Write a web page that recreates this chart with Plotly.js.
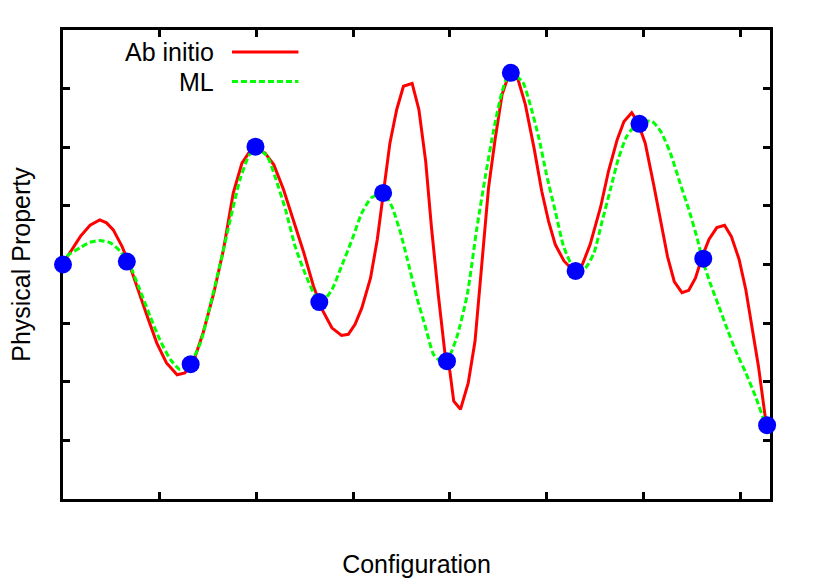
<!DOCTYPE html>
<html>
<head>
<meta charset="utf-8">
<script src="https://cdn.plot.ly/plotly-3.0.1.min.js"></script>
<style>
  html, body { margin: 0; padding: 0; background: #fff; }
  #plot { width: 830px; height: 581px; }
</style>
</head>
<body>
<div id="plot"></div>
<script>
// =========================
// Data
// =========================
const abInitioX = [
  0, 0.04, 0.18, 0.28, 0.38, 0.45, 0.52, 0.61, 0.68, 0.76,
  0.87, 0.97, 1.07, 1.18, 1.26, 1.35, 1.45, 1.56, 1.66, 1.76,
  1.85, 1.92, 1.99, 2.09, 2.18, 2.28, 2.38, 2.49, 2.59, 2.68,
  2.78, 2.88, 2.95, 3.02, 3.09, 3.18, 3.25, 3.31, 3.38, 3.45,
  3.52, 3.61, 3.68, 3.75, 3.81, 3.88, 3.95, 4.00, 4.04, 4.11,
  4.19, 4.26, 4.33, 4.40, 4.47, 4.54, 4.61, 4.69, 4.78, 4.87,
  4.95, 5.02, 5.09, 5.18, 5.28, 5.37, 5.45, 5.56, 5.64, 5.73,
  5.80, 5.88, 5.94, 6.02, 6.11, 6.18, 6.25, 6.32, 6.40, 6.47,
  6.54, 6.61, 6.68, 6.76, 6.84, 6.91, 6.99, 7.06, 7.12, 7.19,
  7.26, 7.28
];
const abInitioY = [
  0, 0.12, 0.48, 0.67, 0.76, 0.71, 0.59, 0.31, 0.03, -0.37,
  -0.88, -1.34, -1.68, -1.88, -1.85, -1.65, -1.16, -0.48, 0.26, 1.22,
  1.73, 1.90, 1.99, 1.90, 1.70, 1.28, 0.77, 0.20, -0.37, -0.77,
  -1.08, -1.21, -1.19, -1.02, -0.74, -0.23, 0.43, 1.16, 2.07, 2.64,
  3.04, 3.09, 2.64, 1.76, 0.63, -0.51, -1.53, -1.82, -2.33, -2.47,
  -2.02, -1.31, 0.06, 1.31, 2.16, 2.90, 3.24, 3.24, 2.73, 1.99,
  1.25, 0.74, 0.34, 0.06, -0.11, 0, 0.34, 0.99, 1.59, 2.13,
  2.44, 2.59, 2.44, 2.07, 1.34, 0.71, 0.14, -0.29, -0.48, -0.44,
  -0.23, 0.14, 0.43, 0.63, 0.67, 0.48, 0.09, -0.43, -1.05, -1.73,
  -2.59, -2.74
];

const mlX = [
  0, 0.04, 0.18, 0.28, 0.38, 0.49, 0.59, 0.68, 0.78, 0.90,
  1.00, 1.11, 1.21, 1.31, 1.42, 1.52, 1.62, 1.73, 1.83, 1.92,
  1.99, 2.11, 2.19, 2.30, 2.40, 2.50, 2.61, 2.68, 2.78, 2.88,
  2.99, 3.09, 3.19, 3.31, 3.40, 3.49, 3.56, 3.66, 3.75, 3.83,
  3.91, 3.97, 4.07, 4.18, 4.28, 4.37, 4.45, 4.54, 4.62, 4.75,
  4.83, 4.92, 5.00, 5.09, 5.18, 5.30, 5.40, 5.49, 5.57, 5.66,
  5.74, 5.83, 5.95, 6.09, 6.18, 6.28, 6.38, 6.47, 6.56, 6.61,
  6.69, 6.78, 6.87, 6.95, 7.06, 7.16, 7.26, 7.28
];
const mlY = [
  0, 0.14, 0.29, 0.38, 0.41, 0.37, 0.23, 0.03, -0.37, -0.88,
  -1.28, -1.62, -1.79, -1.70, -1.34, -0.71, -0.03, 0.77, 1.45, 1.85,
  1.99, 1.85, 1.51, 0.94, 0.31, -0.14, -0.54, -0.63, -0.43, -0.03,
  0.43, 0.88, 1.14, 1.22, 0.99, 0.54, 0.09, -0.57, -1.08, -1.53,
  -1.66, -1.64, -1.25, -0.51, 0.63, 1.53, 2.27, 2.95, 3.27, 3.12,
  2.73, 2.16, 1.53, 0.91, 0.29, -0.11, -0.06, 0.20, 0.71, 1.28,
  1.79, 2.19, 2.42, 2.44, 2.27, 1.90, 1.39, 0.94, 0.43, 0.09,
  -0.31, -0.71, -1.11, -1.45, -1.85, -2.25, -2.70, -2.74
];

const trainX = [0, 0.66, 1.32, 1.99, 2.65, 3.31, 3.97, 4.63, 5.30, 5.96, 6.62, 7.28];
const trainY = [0, 0.05, -1.70, 2.01, -0.64, 1.22, -1.65, 3.27, -0.11, 2.40, 0.10, -2.74];

const xTicks = [1, 2, 3, 4, 5, 6, 7];
const yTicks = [-3, -2, -1, 0, 1, 2, 3];
const legendNames = ['Ab initio', 'ML'];

// =========================
// Plot
// =========================
const FONT = 'Liberation Sans, Arial, Helvetica, sans-serif';
const RED = '#ff0000';
const GREEN = '#00ff00';

const data = [
  {
    type: 'scatter', mode: 'lines', name: legendNames[0],
    x: abInitioX, y: abInitioY,
    line: { color: RED, width: 3 },
    showlegend: false, hoverinfo: 'skip'
  },
  {
    type: 'scatter', mode: 'lines', name: legendNames[1],
    x: mlX, y: mlY,
    line: { color: GREEN, width: 3, dash: '6px,3px', shape: 'spline', smoothing: 0.6 },
    showlegend: false, hoverinfo: 'skip'
  },
  {
    type: 'scatter', mode: 'markers', name: 'training',
    x: trainX, y: trainY,
    marker: { color: '#0000ff', size: 18, line: { width: 0 } },
    cliponaxis: false, showlegend: false, hoverinfo: 'skip'
  }
];

// gnuplot style key: text on the left, sample on the right
function keyEntry(i, color, dash) {
  const yPos = 0.953 - i * 0.063;
  return {
    ann: {
      xref: 'paper', yref: 'paper', x: 0.216, y: yPos,
      xanchor: 'right', yanchor: 'middle', showarrow: false,
      text: legendNames[i], font: { family: FONT, size: 25, color: '#000' }
    },
    shape: {
      type: 'line', xref: 'paper', yref: 'paper',
      x0: 0.239, x1: 0.333, y0: yPos, y1: yPos,
      line: { color: color, width: 3, dash: dash }
    }
  };
}
const keys = [keyEntry(0, RED, 'solid'), keyEntry(1, GREEN, '6px,3px')];

const axisBase = {
  showline: true, linecolor: '#000', linewidth: 3, mirror: 'ticks',
  ticks: 'inside', ticklen: 7, tickwidth: 3, tickcolor: '#000',
  showticklabels: false, showgrid: false, zeroline: false,
  layer: 'below traces'
};

const layout = {
  width: 830, height: 581,
  paper_bgcolor: '#fff', plot_bgcolor: '#fff',
  margin: { l: 63, r: 60, t: 30, b: 82 },
  font: { family: FONT, color: '#000' },
  xaxis: Object.assign({}, axisBase, {
    range: [0, 7.31], tickvals: xTicks,
    title: { text: 'Configuration', font: { family: FONT, size: 25, color: '#000' }, standoff: 55 }
  }),
  yaxis: Object.assign({}, axisBase, {
    range: [-4, 4], tickvals: yTicks,
    title: { text: 'Physical Property', font: { family: FONT, size: 25, color: '#000' }, standoff: 23 }
  }),
  annotations: keys.map(k => k.ann),
  shapes: keys.map(k => k.shape),
  showlegend: false
};

Plotly.newPlot('plot', data, layout, { staticPlot: true });
</script>
</body>
</html>
